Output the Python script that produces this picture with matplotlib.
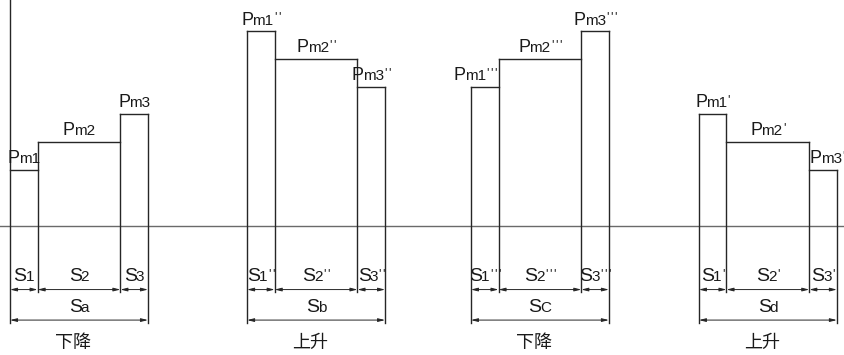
import matplotlib
matplotlib.use("Agg")
import matplotlib.pyplot as plt
from matplotlib.offsetbox import TextArea, HPacker, AnnotationBbox

# ---- data ----
group_names = ["a", "b", "c", "d"]
group_start = [0.0, 8.59, 16.70, 24.96]
seg_widths = [1.0, 3.0, 1.0]
heights = [
    [2.0, 3.0, 4.0],
    [6.95, 5.98, 4.98],
    [4.98, 5.98, 6.95],
    [4.0, 3.0, 2.0],
]
primes = ["", "''", "'''", "'"]
bottom_labels = ["下降", "上升", "下降", "上升"]
group_sub = ["a", "b", "C", "d"]

# ---- style ----
LINE = "#262626"
BASE = "#6a6a6a"
TXT = "#1a1a1a"
FONT = "Liberation Sans"

fig = plt.figure(figsize=(8.45, 3.55), dpi=100)
ax = fig.add_axes([0, 0, 1, 1])
ax.axis("off")
ax.set_xlim(-10 / 27.6, 835 / 27.6)
ax.set_ylim((226 - 355) / 28.0, 226 / 28.0)

y_top = 226 / 28.0
y_inner = -2.36
y_outer = -3.46
y_dim1 = -2.27
y_dim2 = -3.36


def label(x, y, main, sub, pr, size_main, size_sub, align=(0.5, 0.0)):
    kids = [TextArea(main, textprops=dict(fontsize=size_main, family=FONT, color=TXT)),
            TextArea(sub, textprops=dict(fontsize=size_sub, family=FONT, color=TXT))]
    box = HPacker(children=kids, align="baseline", pad=0, sep=-0.8)
    if pr:
        marks = [TextArea(c, textprops=dict(fontsize=size_sub * 0.85, family=FONT, color=TXT))
                 for c in pr]
        prs = HPacker(children=marks, align="baseline", pad=0, sep=1.0)
        box = HPacker(children=[box, prs], align="top", pad=0, sep=0.3)
    ab = AnnotationBbox(box, (x, y), xycoords="data", box_alignment=align,
                        frameon=False, pad=0)
    ax.add_artist(ab)


def dim_arrow(x0, x1, y):
    ax.annotate("", xy=(x1, y), xytext=(x0, y),
                arrowprops=dict(arrowstyle="<|-|>,head_length=0.4,head_width=0.1",
                                lw=0.7, color=LINE, shrinkA=0, shrinkB=0))


# baseline
ax.axhline(0, color=BASE, lw=1.0, zorder=1)

p_offsets = {(2, 0): -0.35, (3, 2): 0.15}

for g in range(4):
    x0 = group_start[g]
    hs = heights[g]
    edges = [x0]
    for w in seg_widths:
        edges.append(edges[-1] + w)
    # left edge
    left_top = y_top if g == 0 else hs[0]
    ax.plot([edges[0], edges[0]], [left_top, y_outer], color=LINE, lw=1.0)
    # tops
    for i in range(3):
        ax.plot([edges[i], edges[i + 1]], [hs[i], hs[i]], color=LINE, lw=1.0)
    # interior verticals
    for i in range(1, 3):
        ax.plot([edges[i], edges[i]], [max(hs[i - 1], hs[i]), y_inner], color=LINE, lw=1.0)
    # right edge
    ax.plot([edges[3], edges[3]], [hs[2], y_outer], color=LINE, lw=1.0)

    # dimension arrows
    for i in range(3):
        dim_arrow(edges[i], edges[i + 1], y_dim1)
    dim_arrow(edges[0], edges[3], y_dim2)

    # P labels
    for i in range(3):
        cx = (edges[i] + edges[i + 1]) / 2 + p_offsets.get((g, i), 0.0)
        label(cx, hs[i] + 0.1, "P", "m%d" % (i + 1), primes[g], 13, 11)
    # S labels
    for i in range(3):
        cx = (edges[i] + edges[i + 1]) / 2
        label(cx, y_dim1 + 0.15, "S", "%d" % (i + 1), primes[g], 14, 11)
    label((edges[0] + edges[3]) / 2, y_dim2 + 0.15, "S", group_sub[g], "", 14, 11)

    # bottom label
    ax.text((edges[0] + edges[3]) / 2 - 0.22, -4.18, bottom_labels[g],
            ha="center", va="center", fontsize=13,
            family=["Noto Sans CJK SC", "DejaVu Sans"], color=TXT)

fig.savefig("out.png", dpi=100)
